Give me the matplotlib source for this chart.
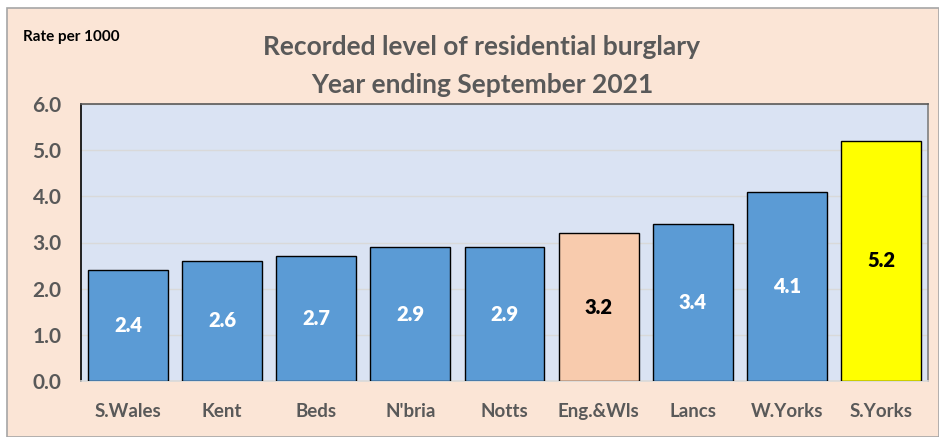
import matplotlib.pyplot as plt
import numpy as np

areas = ["S.Wales", "Kent", "Beds", "N'bria", "Notts", "Eng.&Wls", "Lancs", "W.Yorks", "S.Yorks"]
rates = [2.4, 2.6, 2.7, 2.9, 2.9, 3.2, 3.4, 4.1, 5.2]
bar_colors = ["#5B9BD5"] * 5 + ["#F8CBAD", "#5B9BD5", "#5B9BD5", "#FFFF00"]
label_colors = ["white"] * 5 + ["black", "white", "white", "black"]

plt.rcParams['font.family'] = ['Lato', 'DejaVu Sans']

fig = plt.figure(figsize=(9.39, 4.37), dpi=100)
fig.patch.set_facecolor("white")
# peach panel with thin grey frame, kept behind the axes
fig.patches.append(plt.Rectangle((7 / 939, 0), 1 - 7 / 939, 1 - 8 / 437, transform=fig.transFigure,
                                 facecolor="#FBE5D6", edgecolor="#A6A6A6", lw=1.2, zorder=-10))

ax = fig.add_axes([81 / 939, 1 - 381 / 437, 847 / 939, 277 / 437])
ax.set_facecolor("#DAE3F3")

x = np.arange(len(areas))
bars = ax.bar(x, rates, width=0.85, color=bar_colors, edgecolor="black", lw=1, zorder=3)
for b, v, c in zip(bars, rates, label_colors):
    ax.text(b.get_x() + b.get_width() / 2, v / 2, f"{v:.1f}", ha="center", va="center",
            color=c, fontsize=14.5, fontweight="heavy", zorder=4)

ax.set_xlim(-0.5, len(areas) - 0.5)
ax.set_ylim(0, 6)
ax.set_yticks(np.arange(0, 6.1, 1))
ax.set_yticklabels([f"{t:.1f}" for t in np.arange(0, 6.1, 1)], fontsize=15, fontweight="bold", color="#595959")
ax.set_xticks(x)
ax.set_xticklabels(areas, fontsize=13.5, fontweight="bold", color="#595959")
ax.tick_params(axis="both", length=0)
ax.tick_params(axis="x", pad=16)
ax.tick_params(axis="y", pad=14)
ax.grid(axis="y", color="#D9D9D9", lw=1, zorder=0)

ax.spines["left"].set_color("black")
ax.spines["right"].set_color("#7F7F7F")
ax.spines["top"].set_color("#595959")
ax.spines["bottom"].set_color("#D9D9D9")
for s in ax.spines.values():
    s.set_linewidth(1.2)

fig.text(482 / 939, 1 - 47 / 437, "Recorded level of residential burglary", ha="center", va="center",
         fontsize=19, fontweight="bold", color="#595959")
fig.text(482 / 939, 1 - 85 / 437, "Year ending September 2021", ha="center", va="center",
         fontsize=19, fontweight="bold", color="#595959")
fig.text(23 / 939, 1 - 37 / 437, "Rate per 1000", ha="left", va="center",
         fontsize=11, fontweight="bold", color="black")

fig.savefig("out.png", dpi=100, facecolor=fig.get_facecolor())
